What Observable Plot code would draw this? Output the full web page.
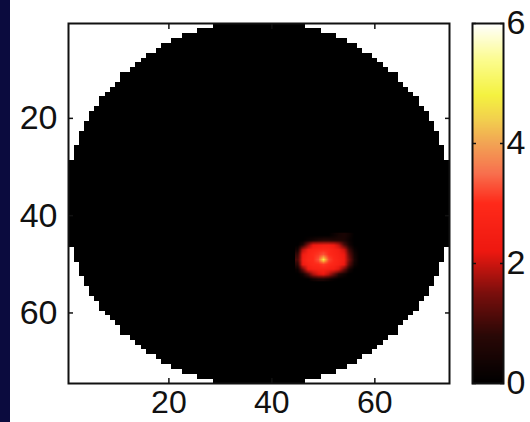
<!DOCTYPE html>
<html>
<head>
<meta charset="utf-8">
<script src="https://cdn.jsdelivr.net/npm/d3@7"></script>
<script src="https://cdn.jsdelivr.net/npm/@observablehq/plot@0.6"></script>
<style>
  html, body { margin: 0; padding: 0; background: #fff; }
  #wrap { position: relative; width: 530px; height: 422px; overflow: hidden; background: #fff; }
  #wrap svg { position: absolute; top: 0; }
  #strip { position: absolute; left: 0; top: 0; width: 10px; height: 422px; background: #0b0b3e; }
</style>
</head>
<body>
<div id="wrap"><div id="strip"></div></div>
<script>
// ---- data ----
const gridSize = 74;                 // image is 74 x 74 pixels
const domainCenter = 37.5;           // circular imaging domain
const domainRadius = 37.5;
const xTicks = [20, 40, 60];
const yTicks = [20, 40, 60];
const colorTicks = [0, 2, 4, 6];
const colorDomain = [0, 6];
const colorStops = [0, 0.8, 1.5, 2.2, 3.0, 3.5, 4.0, 4.4, 4.8, 5.4, 6.0];
const colorStopColors = ["#000000", "#2a0806", "#7a0e0c", "#ee1810", "#ff2a1a", "#f8704e", "#f2a454", "#f2d04e", "#f4f240", "#fcfc90", "#ffffff"];
// hot spot: columns 45..57, rows 44..53
const spotX0 = 45;
const spotY0 = 44;
const spotRows = [
  [0, 0, 0, 0, 0, 0, 0, 0.2, 0.4, 0.5, 0.3, 0, 0],
  [0, 0, 0.2, 0.4, 0.6, 0.7, 0.7, 0.6, 0.6, 0.5, 0.2, 0, 0],
  [0, 0.6, 1.6, 2.2, 2.4, 2.5, 2.5, 2.3, 1.9, 1.1, 0.4, 0, 0],
  [0.4, 1.9, 2.6, 2.8, 2.9, 3.0, 2.9, 2.7, 2.5, 2.0, 1.0, 0.2, 0],
  [0.9, 2.4, 2.8, 3.0, 3.1, 3.3, 3.0, 2.8, 2.6, 2.3, 1.3, 0.4, 0],
  [1.1, 2.5, 2.9, 3.0, 3.3, 4.7, 3.2, 2.9, 2.7, 2.4, 1.5, 0.5, 0],
  [0.8, 2.3, 2.7, 2.9, 3.0, 3.1, 3.0, 2.8, 2.6, 2.2, 1.2, 0.3, 0],
  [0.2, 1.4, 2.4, 2.6, 2.7, 2.7, 2.6, 2.5, 2.1, 1.4, 0.5, 0, 0],
  [0, 0.3, 1.1, 1.8, 2.1, 2.2, 1.9, 1.4, 0.7, 0.3, 0, 0, 0],
  [0, 0, 0, 0.3, 0.5, 0.5, 0.3, 0.1, 0, 0, 0, 0, 0]
];

// ---- scales ----
const hot = d3.scaleLinear().domain(colorStops).range(colorStopColors).clamp(true);
const colorScale = {type: "linear", domain: colorDomain, interpolate: t => hot(t * 6)};
const font = {background: "transparent", fontFamily: "'Liberation Sans', Arial, sans-serif", fontSize: "34px", color: "#111", overflow: "visible"};

const spotW = spotRows[0].length, spotH = spotRows.length;
const spotValues = spotRows.flat();
const fmt = d => String(d);

const main = Plot.plot({
  width: 530, height: 422,
  marginLeft: 68, marginRight: 81, marginTop: 23, marginBottom: 39,
  style: font,
  x: {domain: [0.5, gridSize + 0.5], axis: null},
  y: {domain: [0.5, gridSize + 0.5], reverse: true, axis: null},
  color: colorScale,
  marks: [
    Plot.raster({
      x1: 0.5, x2: gridSize + 0.5, y1: 0.5, y2: gridSize + 0.5,
      width: gridSize, height: gridSize,
      imageRendering: "pixelated",
      fill: (x, y) => ((x - domainCenter) ** 2 + (y - domainCenter) ** 2 <= domainRadius ** 2 ? 0 : NaN)
    }),
    Plot.raster(spotValues, {
      width: spotW, height: spotH,
      x1: spotX0 - 0.5, x2: spotX0 - 0.5 + spotW,
      y1: spotY0 - 0.5, y2: spotY0 - 0.5 + spotH
    }),
    Plot.frame({stroke: "#111", strokeWidth: 2}),
    Plot.axisX(xTicks, {anchor: "bottom", tickSize: -5, tickPadding: 12, tickFormat: fmt, fontSize: 32, strokeWidth: 1.5, label: null}),
    Plot.axisX(xTicks, {anchor: "top", tickSize: -5, tickFormat: () => "", strokeWidth: 1.5, label: null}),
    Plot.axisY(yTicks, {anchor: "left", tickSize: -5, tickPadding: 16, tickFormat: fmt, strokeWidth: 1.5, label: null}),
    Plot.axisY(yTicks, {anchor: "right", tickSize: -5, tickFormat: () => "", strokeWidth: 1.5, label: null})
  ]
});
main.style.left = "0px";

const bar = Plot.plot({
  width: 62, height: 422,
  marginLeft: 2, marginRight: 29, marginTop: 23, marginBottom: 39,
  style: font,
  x: {domain: [0, 1], axis: null},
  y: {domain: colorDomain, axis: null},
  color: colorScale,
  marks: [
    Plot.raster({x1: 0, x2: 1, y1: 0, y2: 6, width: 1, height: 300, fill: (x, y) => y}),
    Plot.frame({stroke: "#111", strokeWidth: 2}),
    Plot.axisY(colorTicks, {anchor: "right", tickSize: -4, tickPadding: 7, tickFormat: fmt, strokeWidth: 1.5, label: null}),
    Plot.axisY(colorTicks, {anchor: "left", tickSize: -4, tickFormat: () => "", strokeWidth: 1.5, label: null})
  ]
});
bar.style.left = "470px";

const wrap = document.getElementById("wrap");
wrap.insertBefore(main, wrap.firstChild);
wrap.appendChild(bar);
</script>
</body>
</html>
